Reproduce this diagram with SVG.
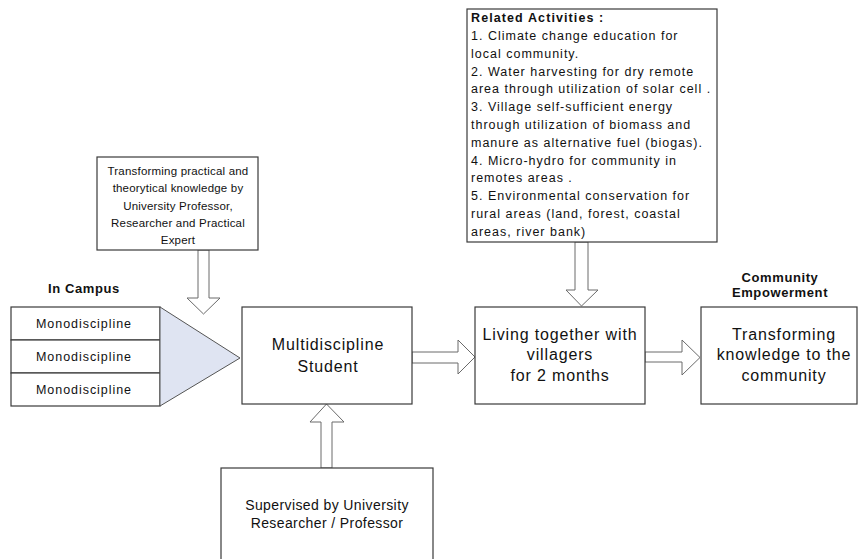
<svg xmlns="http://www.w3.org/2000/svg" width="859" height="559" viewBox="0 0 859 559">
<style>
.box{fill:#fff;stroke:#3a3a3a;stroke-width:1.2}
.arr{fill:#fff;stroke:#6a6a6a;stroke-width:1}
.t12{font-family:"Liberation Sans",Arial,sans-serif;font-size:12.5px;letter-spacing:1px;fill:#111}
.t12c{font-family:"Liberation Sans",Arial,sans-serif;font-size:11.5px;letter-spacing:0.2px;fill:#111;text-anchor:middle}
.mono{font-family:"Liberation Sans",Arial,sans-serif;font-size:12.5px;letter-spacing:0.95px;fill:#111;text-anchor:middle}
.b13{font-family:"Liberation Sans",Arial,sans-serif;font-size:13px;font-weight:bold;letter-spacing:0.6px;fill:#111;text-anchor:middle}
.b12{font-family:"Liberation Sans",Arial,sans-serif;font-size:12.5px;font-weight:bold;letter-spacing:1.1px;fill:#111}
.t16{font-family:"Liberation Sans",Arial,sans-serif;font-size:16px;letter-spacing:0.85px;fill:#111;text-anchor:middle}
.t14{font-family:"Liberation Sans",Arial,sans-serif;font-size:14px;letter-spacing:0.4px;fill:#111;text-anchor:middle}
</style>
<rect width="859" height="559" fill="#fff"/>

<g id="connectors">
  <polygon class="arr" points="198,250 209,250 209,298 220,298 203.5,314 187,298 198,298"/>
  <polygon class="arr" points="575,242 588,242 588,290 598,290 581.5,306 566,290 575,290"/>
  <polygon class="arr" points="412,352 458,352 458,340 475,357 458,374 458,363 412,363"/>
  <polygon class="arr" points="645,352 682,352 682,340 700,357.5 682,375 682,362 645,362"/>
  <polygon class="arr" points="321,468 321,422 310,422 326.5,404 344,422 332,422 332,468"/>
</g>

<g id="in-campus-label">
  <text class="b13" x="84" y="293">In Campus</text>
</g>

<g id="monodiscipline">
  <rect class="box" x="11" y="307" width="149" height="33"/>
  <rect class="box" x="11" y="340" width="149" height="33"/>
  <rect class="box" x="11" y="373" width="149" height="33"/>
  <text class="mono" x="84" y="327.5">Monodiscipline</text>
  <text class="mono" x="84" y="360.5">Monodiscipline</text>
  <text class="mono" x="84" y="393.5">Monodiscipline</text>
</g>

<g id="merge-triangle">
  <polygon points="160,307 240,358 160,406" fill="#dfe4f2" stroke="#555" stroke-width="1"/>
</g>

<g id="transforming-box">
  <rect class="box" x="97" y="157" width="161" height="93"/>
  <text class="t12c" x="178" y="175">Transforming practical and</text>
  <text class="t12c" x="178" y="192">theorytical knowledge by</text>
  <text class="t12c" x="178" y="209.5">University Professor,</text>
  <text class="t12c" x="178" y="227">Researcher and Practical</text>
  <text class="t12c" x="178" y="244">Expert</text>
</g>

<g id="multidiscipline">
  <rect class="box" x="242" y="307" width="170" height="97"/>
  <text class="t16" x="328" y="350">Multidiscipline</text>
  <text class="t16" x="328" y="372">Student</text>
</g>

<g id="supervised">
  <rect class="box" x="221" y="468" width="212" height="110"/>
  <text class="t14" x="327" y="510">Supervised by University</text>
  <text class="t14" x="327" y="528">Researcher / Professor</text>
</g>

<g id="related-activities">
  <rect class="box" x="467" y="9" width="250" height="233"/>
  <text class="b12" x="471" y="22">Related Activities :</text>
  <text class="t12" x="471" y="40">1. Climate change education for</text>
  <text class="t12" x="471" y="57.5">local community.</text>
  <text class="t12" x="471" y="75.5">2. Water harvesting for dry remote</text>
  <text class="t12" x="471" y="93">area through utilization of solar cell .</text>
  <text class="t12" x="471" y="111">3. Village self-sufficient energy</text>
  <text class="t12" x="471" y="129">through utilization of biomass and</text>
  <text class="t12" x="471" y="146.5">manure as alternative fuel  (biogas).</text>
  <text class="t12" x="471" y="164.5">4. Micro-hydro for community in</text>
  <text class="t12" x="471" y="182">remotes areas .</text>
  <text class="t12" x="471" y="200">5. Environmental conservation for</text>
  <text class="t12" x="471" y="218">rural areas  (land, forest, coastal</text>
  <text class="t12" x="471" y="235.5">areas, river bank)</text>
</g>

<g id="living">
  <rect class="box" x="475" y="307" width="170" height="97"/>
  <text class="t16" x="560" y="340">Living together with</text>
  <text class="t16" x="560" y="360">villagers</text>
  <text class="t16" x="560" y="380.5">for 2 months</text>
</g>

<g id="community-label">
  <text class="b13" x="780" y="282">Community</text>
  <text class="b13" x="780" y="297">Empowerment</text>
</g>

<g id="community">
  <rect class="box" x="701" y="307" width="156" height="97"/>
  <text class="t16" x="784" y="340">Transforming</text>
  <text class="t16" x="784" y="360">knowledge to the</text>
  <text class="t16" x="784" y="380.5">community</text>
</g>
</svg>
